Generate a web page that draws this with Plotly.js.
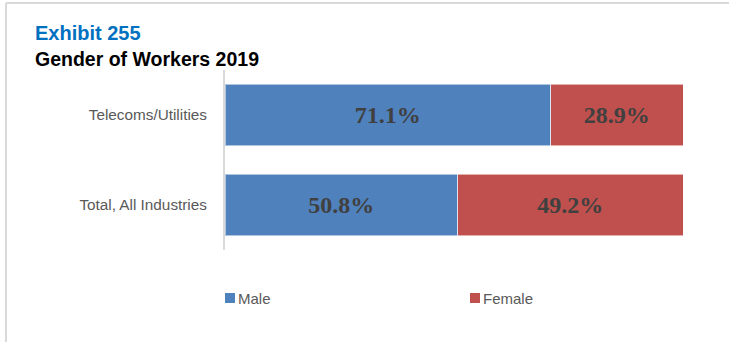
<!DOCTYPE html>
<html>
<head>
<meta charset="utf-8">
<script src="https://cdn.plot.ly/plotly-3.0.1.min.js"></script>
<style>
html,body{margin:0;padding:0;background:#fff;}
#chart{width:729px;height:342px;}
</style>
</head>
<body>
<div id="chart"></div>
<script>
var categories = ["Telecoms/Utilities", "Total, All Industries"];
var seriesNames = ["Male", "Female"];
var maleValues = [71.1, 50.8];
var femaleValues = [28.9, 49.2];
var seriesColors = ["#4f81bd", "#c0504d"];
var exhibitTitle = "Exhibit 255";
var chartTitle = "Gender of Workers 2019";

var W = 729, H = 342;
var m = {l: 225, r: 46, t: 70, b: 92};
var pw = W - m.l - m.r, ph = H - m.t - m.b;
function px(x){ return (x - m.l) / pw; }
function py(y){ return (H - m.b - y) / ph; }

var labelFont = {family: "'Liberation Serif', 'Times New Roman', serif", size: 24, color: "#404040", weight: 700};

function mk(name, vals, color){
  return {
    type: "bar", orientation: "h", name: name,
    y: categories, x: vals,
    marker: {color: color, line: {color: "rgba(255,255,255,0.55)", width: 1}},
    text: vals.map(function(v){ return v.toFixed(1) + "%"; }),
    textposition: "inside", insidetextanchor: "middle",
    textfont: labelFont, hoverinfo: "skip", showlegend: false
  };
}
var data = [mk(seriesNames[0], maleValues, seriesColors[0]), mk(seriesNames[1], femaleValues, seriesColors[1])];

var shapes = [
  {type:"line", xref:"paper", yref:"paper", x0:px(6), x1:px(740), y0:py(3), y1:py(3), line:{color:"#d9d9d9", width:2}},
  {type:"line", xref:"paper", yref:"paper", x0:px(6), x1:px(6), y0:py(3), y1:py(350), line:{color:"#d9d9d9", width:2}},
  {type:"rect", xref:"paper", yref:"paper", x0:px(225), x1:px(235), y0:py(293), y1:py(303), fillcolor:seriesColors[0], line:{width:0}},
  {type:"rect", xref:"paper", yref:"paper", x0:px(470), x1:px(480), y0:py(293), y1:py(303), fillcolor:seriesColors[1], line:{width:0}}
];

var annotations = [
  {text:"<b>"+exhibitTitle+"</b>", xref:"paper", yref:"paper", x:px(33), y:py(33), xanchor:"left", yanchor:"middle", showarrow:false,
   font:{family:"'Liberation Sans', Arial, sans-serif", size:20, color:"#0070c0"}},
  {text:"<b>"+chartTitle+"</b>", xref:"paper", yref:"paper", x:px(33), y:py(59), xanchor:"left", yanchor:"middle", showarrow:false,
   font:{family:"'Liberation Sans', Arial, sans-serif", size:19.5, color:"#000000"}},
  {text:seriesNames[0], xref:"paper", yref:"paper", x:px(236), y:py(298), xanchor:"left", yanchor:"middle", showarrow:false,
   font:{family:"'Liberation Sans', Arial, sans-serif", size:15, color:"#595959"}},
  {text:seriesNames[1], xref:"paper", yref:"paper", x:px(481), y:py(298), xanchor:"left", yanchor:"middle", showarrow:false,
   font:{family:"'Liberation Sans', Arial, sans-serif", size:15, color:"#595959"}}
];

var layout = {
  width: W, height: H, margin: m,
  paper_bgcolor: "#ffffff", plot_bgcolor: "#ffffff",
  barmode: "stack", bargap: 0.32,
  showlegend: false,
  xaxis: {range: [0, 100], visible: false, fixedrange: true},
  yaxis: {autorange: "reversed", type: "category", showline: true, linecolor: "#d9d9d9", linewidth: 2,
          showgrid: false, zeroline: false, ticks: "", ticklabelstandoff: 13,
          tickfont: {family:"'Liberation Sans', Arial, sans-serif", size: 15.3, color: "#595959"}},
  shapes: shapes, annotations: annotations
};

Plotly.newPlot("chart", data, layout, {staticPlot: true, displayModeBar: false});
</script>
</body>
</html>
